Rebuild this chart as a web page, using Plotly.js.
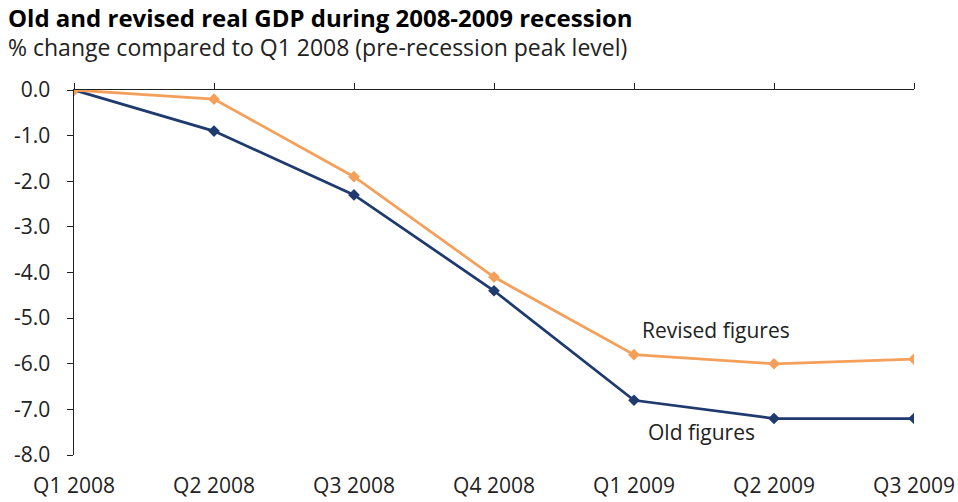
<!DOCTYPE html>
<html><head><meta charset="utf-8">
<script src="https://cdn.plot.ly/plotly-3.0.1.min.js"></script>
<style>html,body{margin:0;padding:0;background:#fff}#chart{width:958px;height:502px}</style>
</head><body><div id="chart"></div>
<script>
var quarters = ["Q1 2008","Q2 2008","Q3 2008","Q4 2008","Q1 2009","Q2 2009","Q3 2009"];
var oldFigures = [0.0, -0.9, -2.3, -4.4, -6.8, -7.2, -7.2];
var revisedFigures = [0.0, -0.2, -1.9, -4.1, -5.8, -6.0, -5.9];
var yTicks = [0,-1,-2,-3,-4,-5,-6,-7,-8];
var yTickText = ["0.0","-1.0","-2.0","-3.0","-4.0","-5.0","-6.0","-7.0","-8.0"];

var fontFam = "'Open Sans', sans-serif";
var traces = [
  {x: quarters, y: oldFigures, type: "scatter", mode: "lines+markers", name: "Old figures",
   line: {color: "#1F3A6E", width: 2.75}, marker: {symbol: "diamond", size: 9, color: "#1F3A6E"}},
  {x: quarters, y: revisedFigures, type: "scatter", mode: "lines+markers", name: "Revised figures",
   line: {color: "#F5A05A", width: 2.75}, marker: {symbol: "diamond", size: 9, color: "#F5A05A"}},
  {x: quarters, y: revisedFigures, xaxis: "x2", type: "scatter", mode: "none", hoverinfo: "skip", showlegend: false}
];
var layout = {
  width: 958, height: 502,
  margin: {l: 74, r: 44, t: 90, b: 47},
  paper_bgcolor: "#fff", plot_bgcolor: "#fff",
  showlegend: false,
  font: {family: fontFam, color: "#222", size: 21},
  xaxis: {type: "category", categoryarray: quarters, range: [0, 6], side: "top",
          showline: true, linecolor: "#222", linewidth: 1.5, ticks: "outside", ticklen: 6,
          tickcolor: "#222", showticklabels: false, showgrid: false, zeroline: false, fixedrange: true},
  xaxis2: {type: "category", categoryarray: quarters, range: [0, 6], overlaying: "x", side: "bottom",
           anchor: "y", showline: false, ticks: "", showgrid: false, zeroline: false,
           tickfont: {size: 21, color: "#222"}, ticklabelstandoff: 16},
  yaxis: {range: [-8, 0], tickvals: yTicks, ticktext: yTickText, showline: true, linecolor: "#222",
          linewidth: 1.5, ticks: "outside", ticklen: 6, tickcolor: "#222", showgrid: false,
          zeroline: false, tickfont: {size: 21, color: "#222"}, ticklabelstandoff: 12},
  annotations: [
    {text: "<b>Old and revised real GDP during 2008-2009 recession</b>", xref: "paper", yref: "paper",
     x: -68/840, y: 1 + 73/365, xanchor: "left", yanchor: "middle", showarrow: false,
     font: {size: 24, color: "#000", family: fontFam}},
    {text: "% change compared to Q1 2008 (pre-recession peak level)", xref: "paper", yref: "paper",
     x: -68/840, y: 1 + 43/365, xanchor: "left", yanchor: "middle", showarrow: false,
     font: {size: 23, color: "#222", family: fontFam}},
    {text: "Revised figures", x: "Q1 2009", y: revisedFigures[4], xref: "x", yref: "y",
     xshift: 82, yshift: 25, showarrow: false, font: {size: 21, color: "#222"}},
    {text: "Old figures", x: "Q1 2009", y: oldFigures[4], xref: "x", yref: "y",
     xshift: 67, yshift: -32, showarrow: false, font: {size: 21, color: "#222"}}
  ]
};
Plotly.newPlot("chart", traces, layout, {displayModeBar: false, staticPlot: true});
</script></body></html>
